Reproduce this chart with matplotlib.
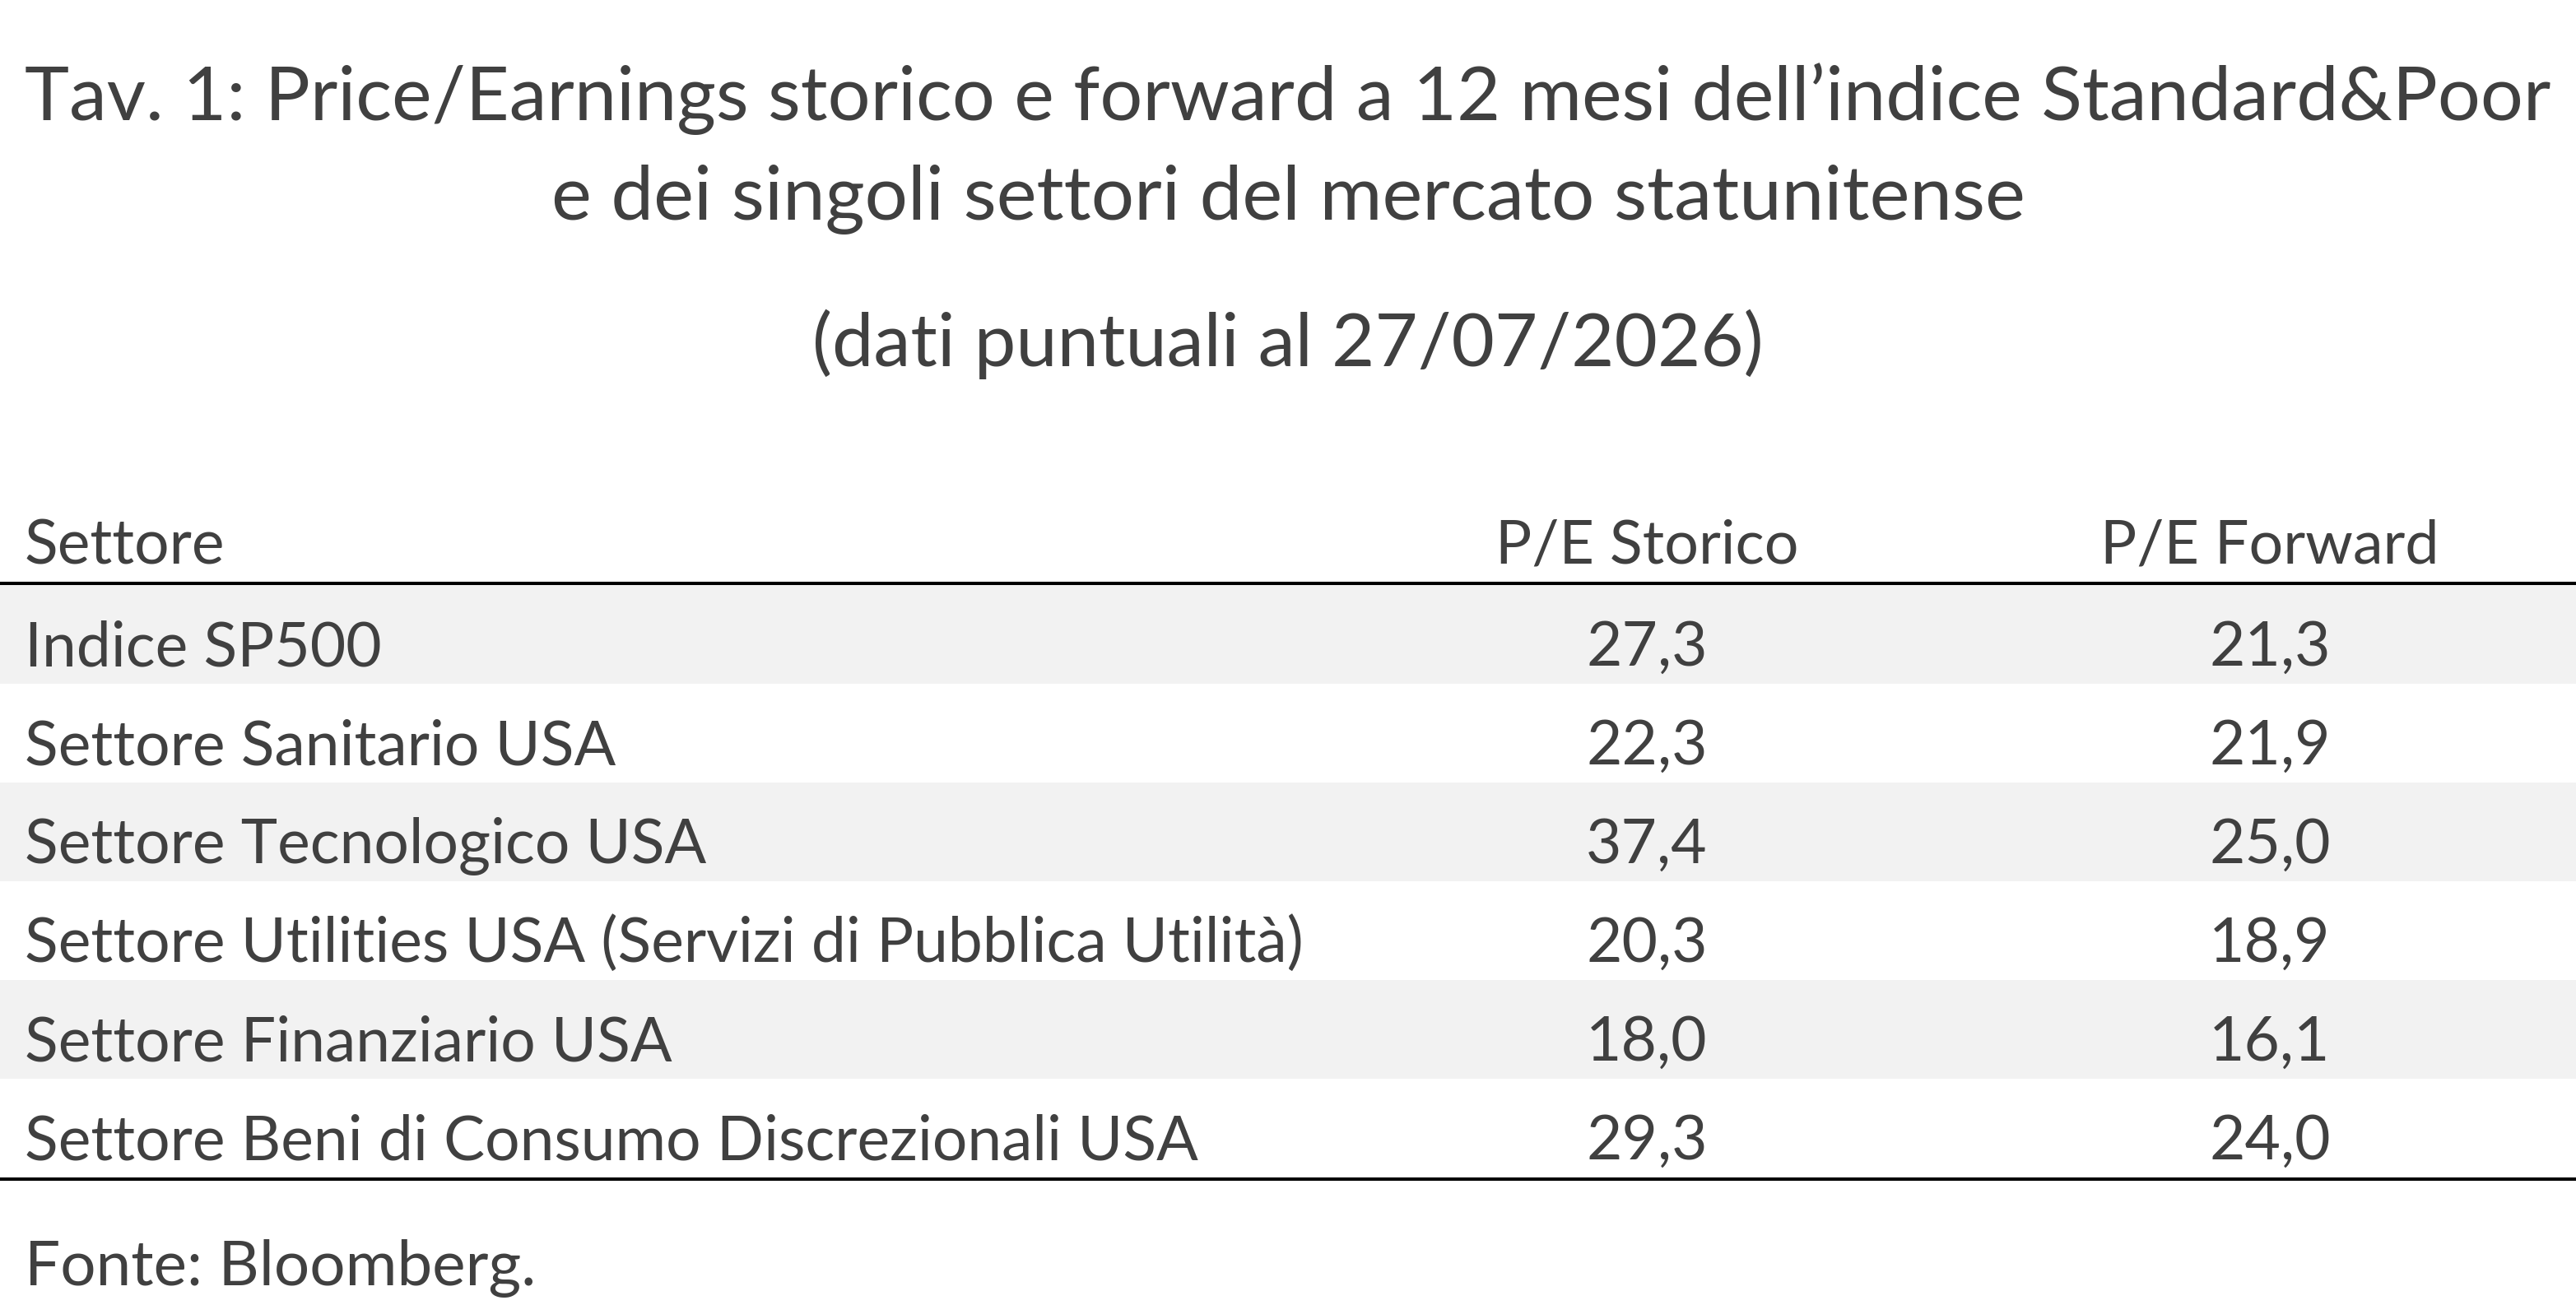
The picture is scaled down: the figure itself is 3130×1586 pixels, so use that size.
import matplotlib
matplotlib.use("Agg")
import matplotlib.pyplot as plt

title_lines = ["Tav. 1: Price/Earnings storico e forward a 12 mesi dell\u2019indice Standard&Poor",
               "e dei singoli settori del mercato statunitense"]
subtitle = "(dati puntuali al 27/07/2026)"
col_headers = ["Settore", "P/E Storico", "P/E Forward"]
sectors = ["Indice SP500",
           "Settore Sanitario USA",
           "Settore Tecnologico USA",
           "Settore Utilities USA (Servizi di Pubblica Utilit\u00e0)",
           "Settore Finanziario USA",
           "Settore Beni di Consumo Discrezionali USA"]
pe_storico = [27.3, 22.3, 37.4, 20.3, 18.0, 29.3]
pe_forward = [21.3, 21.9, 25.0, 18.9, 16.1, 24.0]
source = "Fonte: Bloomberg."

W, H = 3130, 1586
txt = "#404040"
font = "Lato"

fig = plt.figure(figsize=(W / 100, H / 100), dpi=100)
ax = fig.add_axes([0, 0, 1, 1])
ax.set_xlim(0, W)
ax.set_ylim(H, 0)
ax.axis("off")

# titles
ax.text(W / 2, 146, title_lines[0], ha="center", va="baseline", fontsize=66, color=txt, family=font)
ax.text(W / 2, 267, title_lines[1], ha="center", va="baseline", fontsize=66.5, color=txt, family=font)
ax.text(W / 2, 445, subtitle, ha="center", va="baseline", fontsize=65, color=txt, family=font)

# table geometry
x_left = 30
x_sto = 2001
x_fwd = 2758
top = 711
row_h = 120

ax.text(x_left, 685, col_headers[0], ha="left", va="baseline", fontsize=54, color=txt, family=font)
ax.text(x_sto, 685, col_headers[1], ha="center", va="baseline", fontsize=53, color=txt, family=font)
ax.text(x_fwd, 685, col_headers[2], ha="center", va="baseline", fontsize=53, color=txt, family=font)

n = len(sectors)
centers = [top + row_h * (i + 0.5) for i in range(n)]
band_colors = ["#f2f2f2" if i % 2 == 0 else "white" for i in range(n)]
ax.barh(centers, [W] * n, height=row_h, left=0, color=band_colors, zorder=0)

for i, (name, s, f) in enumerate(zip(sectors, pe_storico, pe_forward)):
    base = top + row_h * i + 98
    ax.text(x_left, base, name, ha="left", va="baseline", fontsize=54, color=txt, family=font)
    ax.text(x_sto, base, f"{s:.1f}".replace(".", ","), ha="center", va="baseline", fontsize=54, color=txt, family=font)
    ax.text(x_fwd, base, f"{f:.1f}".replace(".", ","), ha="center", va="baseline", fontsize=54, color=txt, family=font)

ax.plot([0, W], [709, 709], color="black", lw=2.9, solid_capstyle="butt")
ax.plot([0, W], [top + row_h * n + 2, top + row_h * n + 2], color="black", lw=2.9, solid_capstyle="butt")

ax.text(x_left, 1562, source, ha="left", va="baseline", fontsize=55, color=txt, family=font)

fig.savefig("out.png", dpi=100, facecolor="white")
